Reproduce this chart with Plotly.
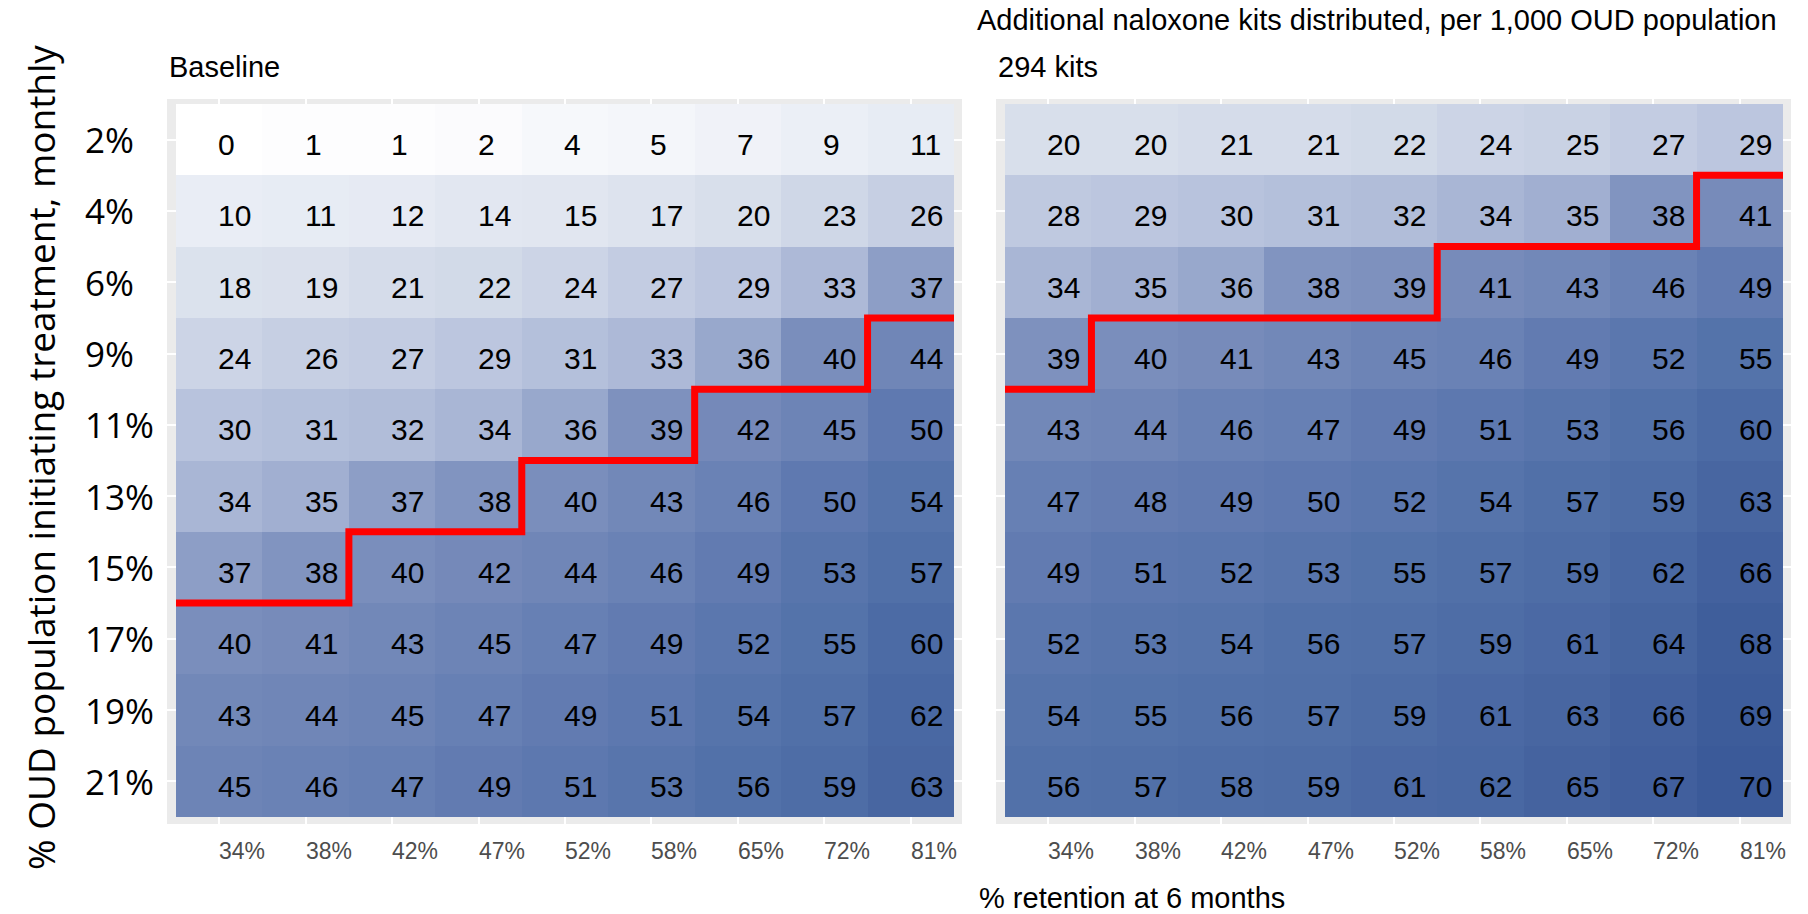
import plotly.graph_objects as go

# Axis categories
retention = ["34%", "38%", "42%", "47%", "52%", "58%", "65%", "72%", "81%"]
initiation = ["2%", "4%", "6%", "9%", "11%", "13%", "15%", "17%", "19%", "21%"]

# Cell values, rows follow `initiation`, columns follow `retention`
baseline = [
    [0, 1, 1, 2, 4, 5, 7, 9, 11],
    [10, 11, 12, 14, 15, 17, 20, 23, 26],
    [18, 19, 21, 22, 24, 27, 29, 33, 37],
    [24, 26, 27, 29, 31, 33, 36, 40, 44],
    [30, 31, 32, 34, 36, 39, 42, 45, 50],
    [34, 35, 37, 38, 40, 43, 46, 50, 54],
    [37, 38, 40, 42, 44, 46, 49, 53, 57],
    [40, 41, 43, 45, 47, 49, 52, 55, 60],
    [43, 44, 45, 47, 49, 51, 54, 57, 62],
    [45, 46, 47, 49, 51, 53, 56, 59, 63],
]
kits294 = [
    [20, 20, 21, 21, 22, 24, 25, 27, 29],
    [28, 29, 30, 31, 32, 34, 35, 38, 41],
    [34, 35, 36, 38, 39, 41, 43, 46, 49],
    [39, 40, 41, 43, 45, 46, 49, 52, 55],
    [43, 44, 46, 47, 49, 51, 53, 56, 60],
    [47, 48, 49, 50, 52, 54, 57, 59, 63],
    [49, 51, 52, 53, 55, 57, 59, 62, 66],
    [52, 53, 54, 56, 57, 59, 61, 64, 68],
    [54, 55, 56, 57, 59, 61, 63, 66, 69],
    [56, 57, 58, 59, 61, 62, 65, 67, 70],
]

# Threshold boundary per retention column (between-row position)
baseline_step = [6.5, 6.5, 5.5, 5.5, 4.5, 4.5, 3.5, 3.5, 2.5]
kits294_step = [3.5, 2.5, 2.5, 2.5, 2.5, 1.5, 1.5, 1.5, 0.5]

panel_titles = ["Baseline", "294 kits"]
main_title = "Additional naloxone kits distributed, per 1,000 OUD population"
x_title = "% retention at 6 months"
y_title = "% OUD population initiating treatment, monthly"

W, H = 1808, 914
BODY = "Liberation Sans, Arial, sans-serif"
SIDE = "Open Sans, sans-serif"

colorscale = [
    [0 / 70, "#ffffff"],
    [10 / 70, "#e9edf5"],
    [20 / 70, "#d8dfeb"],
    [26 / 70, "#c6cfe3"],
    [30 / 70, "#b8c3dd"],
    [34 / 70, "#a9b6d5"],
    [36 / 70, "#98a8cc"],
    [38 / 70, "#8194c0"],
    [41 / 70, "#778bba"],
    [45 / 70, "#6d84b6"],
    [50 / 70, "#5f79b0"],
    [55 / 70, "#5473aa"],
    [60 / 70, "#4c6ba5"],
    [65 / 70, "#45639f"],
    [70 / 70, "#3b5a99"],
]

cols = list(range(len(retention)))
rows = list(range(len(initiation)))

# Pixel geometry of the two panels (grey backgrounds and tile extents)
panels = [
    dict(bg=(167, 962), cells=(176, 954), data=baseline, step=baseline_step, xa="x", ya="y"),
    dict(bg=(996, 1791), cells=(1005, 1783), data=kits294, step=kits294_step, xa="x2", ya="y2"),
]
bg_top, bg_bot = 99, 824
cell_top, cell_bot = 104, 817
row_h = (cell_bot - cell_top) / len(initiation)
y_range = [len(initiation) - 0.5 + (bg_bot - cell_bot) / row_h,
           -0.5 - (cell_top - bg_top) / row_h]

fig = go.Figure()
layout_axes = {}
annotations = []

for k, p in enumerate(panels):
    col_w = (p["cells"][1] - p["cells"][0]) / len(retention)
    x_range = [-0.5 - (p["cells"][0] - p["bg"][0]) / col_w,
               len(retention) - 0.5 + (p["bg"][1] - p["cells"][1]) / col_w]

    fig.add_trace(go.Heatmap(
        z=p["data"], x=cols, y=rows, coloraxis="coloraxis",
        xaxis=p["xa"], yaxis=p["ya"], hoverinfo="skip",
    ))

    # Step line marking the threshold
    sx = [c - 0.5 for c in cols] + [len(retention) - 0.5]
    sy = p["step"] + [p["step"][-1]]
    fig.add_trace(go.Scatter(
        x=sx, y=sy, mode="lines", line=dict(color="#ff0000", width=7, shape="hv"),
        xaxis=p["xa"], yaxis=p["ya"], hoverinfo="skip", showlegend=False,
    ))

    # Value labels, left-aligned at the tile centre
    for r in rows:
        for c in cols:
            annotations.append(dict(
                x=c, y=r, xref=p["xa"], yref=p["ya"], text=str(p["data"][r][c]),
                xanchor="left", yanchor="middle", xshift=-3, yshift=-5,
                showarrow=False,
                font=dict(family=BODY, size=30, color="#000000"),
            ))

    axname = "xaxis" if k == 0 else "xaxis2"
    ayname = "yaxis" if k == 0 else "yaxis2"
    layout_axes[axname] = dict(
        domain=[p["bg"][0] / W, p["bg"][1] / W], range=x_range,
        tickvals=cols, showticklabels=False, showgrid=True, gridcolor="#ffffff",
        gridwidth=2, zeroline=False, showline=False, ticks="",
        anchor="y" if k == 0 else "y2", fixedrange=True,
    )
    layout_axes[ayname] = dict(
        domain=[1 - bg_bot / H, 1 - bg_top / H], range=y_range,
        tickvals=rows, showticklabels=False, showgrid=True, gridcolor="#ffffff",
        gridwidth=2, zeroline=False, showline=False, ticks="",
        anchor="x" if k == 0 else "x2", fixedrange=True,
    )

    # Retention tick labels
    for c in cols:
        annotations.append(dict(
            x=c, y=1 - 851 / H, xref=p["xa"], yref="paper", text=retention[c],
            xanchor="left", yanchor="middle", xshift=-2, showarrow=False,
            font=dict(family=BODY, size=23, color="#4d4d4d"),
        ))

    # Panel title
    annotations.append(dict(
        x=p["bg"][0] / W, y=1 - 67 / H, xref="paper", yref="paper",
        text=panel_titles[k], xanchor="left", yanchor="middle", showarrow=False,
        font=dict(family=BODY, size=29, color="#000000"),
    ))

# Initiation tick labels (left of the first panel)
for r in rows:
    annotations.append(dict(
        x=83 / W, y=r, xref="paper", yref="y", text=initiation[r],
        xanchor="left", yanchor="middle", showarrow=False,
        font=dict(family=SIDE, size=35, color="#000000"),
    ))

annotations += [
    dict(x=975 / W, y=1 - 20 / H, xref="paper", yref="paper", text=main_title,
         xanchor="left", yanchor="middle", showarrow=False,
         font=dict(family=BODY, size=29, color="#000000")),
    dict(x=977 / W, y=1 - 898 / H, xref="paper", yref="paper", text=x_title,
         xanchor="left", yanchor="middle", showarrow=False,
         font=dict(family=BODY, size=29, color="#000000")),
    dict(x=40 / W, y=1 - 458 / H, xref="paper", yref="paper", text=y_title,
         textangle=-90, xanchor="center", yanchor="middle", showarrow=False,
         font=dict(family=SIDE, size=37, color="#000000")),
]

fig.update_layout(
    width=W, height=H, margin=dict(l=0, r=0, t=0, b=0),
    paper_bgcolor="#ffffff", plot_bgcolor="#ebebeb",
    coloraxis=dict(colorscale=colorscale, cmin=0, cmax=70, showscale=False),
    showlegend=False, annotations=annotations, **layout_axes,
)

fig.write_html("out.html")
